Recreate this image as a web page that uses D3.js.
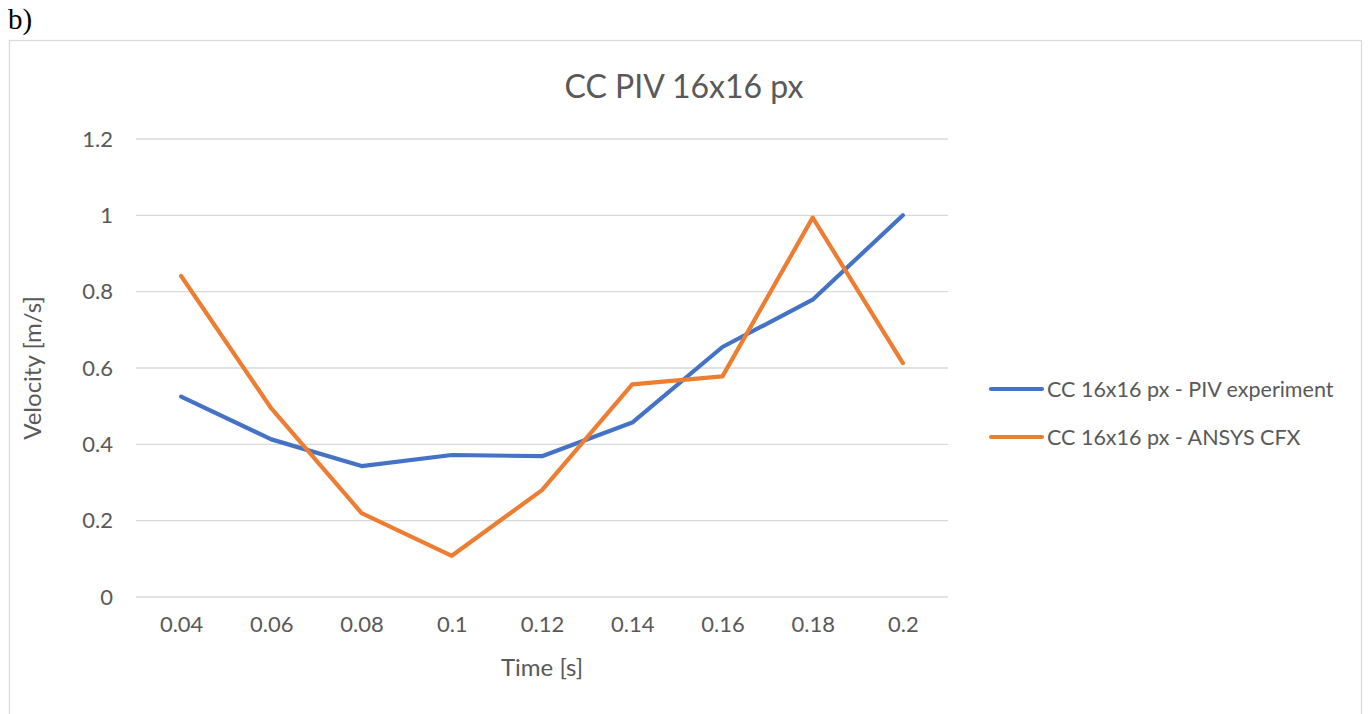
<!DOCTYPE html>
<html>
<head>
<meta charset="utf-8">
<script src="https://cdn.jsdelivr.net/npm/d3@7"></script>
<style>
  body { margin: 0; background: #fff; }
  text { font-family: Lato, "Open Sans", sans-serif; fill: #595959; }
</style>
</head>
<body>
<div id="chart"></div>
<script>
// Categories on the x axis (time, s)
var times = ["0.04", "0.06", "0.08", "0.1", "0.12", "0.14", "0.16", "0.18", "0.2"];

// Series values (velocity, m/s)
var pivExperiment = [0.525, 0.413, 0.343, 0.372, 0.369, 0.457, 0.655, 0.779, 1.0];
var ansysCfx = [0.841, 0.494, 0.22, 0.108, 0.28, 0.557, 0.578, 0.994, 0.613];

var seriesNames = ["CC 16x16 px - PIV experiment", "CC 16x16 px - ANSYS CFX"];
var seriesColors = ["#4472c4", "#ed7d31"];
var yTicks = [0, 0.2, 0.4, 0.6, 0.8, 1, 1.2];

var width = 1370, height = 714;
var margin = {top: 139, right: 422, bottom: 117, left: 136};
var plotW = width - margin.left - margin.right;
var plotH = height - margin.top - margin.bottom;

var svg = d3.select("#chart").append("svg")
    .attr("width", width)
    .attr("height", height);

// "b)" label
svg.append("text")
    .attr("x", 8).attr("y", 29)
    .style("font-family", "'Liberation Serif', 'DejaVu Serif', serif")
    .style("font-size", "29px")
    .style("fill", "#000")
    .text("b)");

// chart frame
svg.append("rect")
    .attr("x", 9.5).attr("y", 40.5)
    .attr("width", 1352).attr("height", 700)
    .attr("fill", "none")
    .attr("stroke", "#d9d9d9")
    .attr("stroke-width", 1.3);

var g = svg.append("g")
    .attr("transform", "translate(" + margin.left + "," + margin.top + ")");

var xScale = d3.scalePoint()
    .domain(times)
    .range([0, plotW])
    .padding(0.5);

var yScale = d3.scaleLinear()
    .domain([0, 1.2])
    .range([plotH, 0]);

// gridlines
g.selectAll(".grid")
    .data(yTicks)
    .enter().append("line")
    .attr("x1", 0).attr("x2", plotW)
    .attr("y1", function(d) { return yScale(d); })
    .attr("y2", function(d) { return yScale(d); })
    .attr("stroke", "#d9d9d9")
    .attr("stroke-width", 1.3);

// y axis labels
var yAxis = d3.axisLeft(yScale)
    .tickValues(yTicks)
    .tickSize(0)
    .tickPadding(23)
    .tickFormat(function(d) { return d3.format("")(+d.toFixed(1)); });
var yG = g.append("g").call(yAxis);
yG.select(".domain").remove();
yG.selectAll("text").style("font-size", "22px").style("fill", "#595959");

// x axis labels
var xAxis = d3.axisBottom(xScale)
    .tickSize(0)
    .tickPadding(19);
var xG = g.append("g")
    .attr("transform", "translate(0," + plotH + ")")
    .call(xAxis);
xG.select(".domain").remove();
xG.selectAll("text").style("font-size", "22px").style("fill", "#595959");

// lines
var line = d3.line()
    .x(function(d, i) { return xScale(times[i]); })
    .y(function(d) { return yScale(d); });

[pivExperiment, ansysCfx].forEach(function(s, i) {
    g.append("path")
        .datum(s)
        .attr("d", line)
        .attr("fill", "none")
        .attr("stroke", seriesColors[i])
        .attr("stroke-width", 4.2)
        .attr("stroke-linejoin", "round")
        .attr("stroke-linecap", "round");
});

// title
svg.append("text")
    .attr("x", 684).attr("y", 98)
    .attr("text-anchor", "middle")
    .style("font-size", "32px")
    .text("CC PIV 16x16 px");

// axis titles
svg.append("text")
    .attr("transform", "translate(41," + (margin.top + plotH / 2) + ") rotate(-90)")
    .attr("text-anchor", "middle")
    .style("font-size", "24px")
    .text("Velocity [m/s]");

svg.append("text")
    .attr("x", margin.left + plotW / 2).attr("y", 676)
    .attr("text-anchor", "middle")
    .style("font-size", "24px")
    .text("Time [s]");

// legend
var legend = svg.append("g");
seriesNames.forEach(function(name, i) {
    var ly = 389 + i * 48;
    legend.append("line")
        .attr("x1", 991).attr("x2", 1042)
        .attr("y1", ly).attr("y2", ly)
        .attr("stroke", seriesColors[i])
        .attr("stroke-width", 4.2)
        .attr("stroke-linecap", "round");
    legend.append("text")
        .attr("x", 1047).attr("y", ly + 7.5)
        .style("font-size", "21.5px")
        .text(name);
});
</script>
</body>
</html>
